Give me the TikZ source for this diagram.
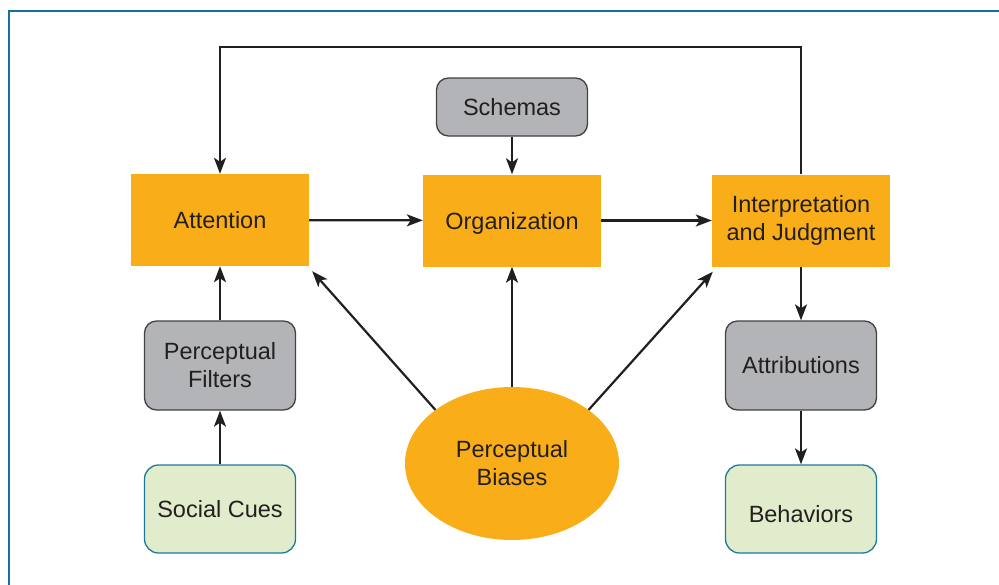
\documentclass[tikz,border=0pt]{standalone}
\usepackage{fontspec}
\setmainfont{Liberation Sans}
\usetikzlibrary{arrows.meta}
\usetikzlibrary{shapes.geometric}

\definecolor{stage}{HTML}{F9AE19}
\definecolor{filter}{HTML}{B2B4B7}
\definecolor{cue}{HTML}{E0ECCB}
\definecolor{cueline}{HTML}{1D7A9C}
\definecolor{frameline}{HTML}{17729A}
\definecolor{ink}{HTML}{231F20}

\begin{document}
\begin{tikzpicture}[x=1pt,y=-1pt,
    font=\fontsize{23.5}{28}\selectfont, text=ink,
    stagebox/.style={fill=stage,minimum width=178pt,minimum height=92pt,align=center},
    greybox/.style={fill=filter,draw=ink!85,line width=1.3pt,rounded corners=12pt,
      minimum width=151pt,minimum height=89pt,align=center},
    greenbox/.style={fill=cue,draw=cueline,line width=1.3pt,rounded corners=14pt,
      minimum width=151pt,minimum height=88pt},
    link/.style={draw=ink,line width=2.2pt,-{Stealth[length=16pt,width=12pt,inset=4pt]}}]
        \useasboundingbox (0,0) rectangle (999,584);
        \draw[frameline,line width=2.6pt] (1005,11) -- (9,11) -- (9,590);
        % stages
        \node[stagebox] (att) at (220,220) {Attention};
        \node[stagebox,text depth=0pt] (org) at (512,220.5) {Organization};
        \node[stagebox] (interp) at (801,220.5) {Interpretation\\and Judgment};
        % side boxes
        \node[greybox,minimum height=58pt] (schema) at (512,107) {Schemas};
        \node[greybox] (filt) at (220,365.5) {Perceptual\\Filters};
        \node[greybox] (attr) at (801,365.5) {Attributions};
        \node[greenbox] (cues) at (220,509) {Social Cues};
        \node[greenbox,text height=27pt,text depth=0pt] (beh) at (801,509) {Behaviors};
        \node[ellipse,fill=stage,minimum width=214pt,minimum height=153pt,
          inner sep=0pt,align=center] (bias) at (512,463.5) {Perceptual\\Biases};
        \coordinate (top) at (512,47);
        % connectors
        \path[link] (att) -- (org);
        \path[link] (org) -- (interp);
        \path[link] (schema) -- (org);
        \path[link] (cues) -- (filt);
        \path[link] (filt) -- (att);
        \path[link] (interp) -- (attr);
        \path[link] (attr) -- (beh);
        \path[link] (bias.north) -- (org.south);
        \path[link] (bias.145) -- ([shift={(3,5)}]att.south east);
        \path[link] (bias.35) -- ([shift={(1,5)}]interp.south west);
        \path[link] (interp.north) |- (top) -| (att.north);
\end{tikzpicture}
\end{document}
